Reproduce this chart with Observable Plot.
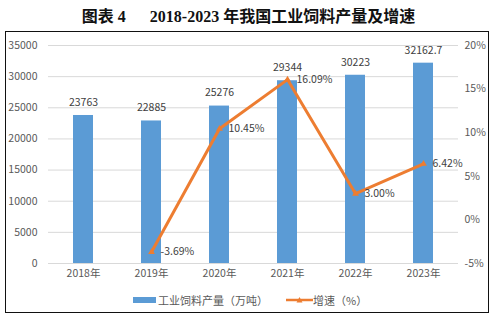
<!DOCTYPE html>
<html><head><meta charset="utf-8">
<script src="https://cdn.jsdelivr.net/npm/d3@7"></script>
<script src="https://cdn.jsdelivr.net/npm/@observablehq/plot@0.6"></script>
<style>
body{margin:0;width:497px;height:322px;background:#fff;position:relative;overflow:hidden;font-family:"Noto Sans CJK SC",sans-serif;}
#title{position:absolute;left:0;top:3px;width:497px;text-align:center;font-family:"Liberation Serif","Noto Sans CJK SC",serif;font-weight:bold;font-size:16px;color:#111;white-space:pre;}
#frame{position:absolute;left:5px;top:31px;width:482px;height:280px;border:1.6px solid #111;}
#chart{position:absolute;left:0;top:31px;}
#legend{position:absolute;top:292px;left:0;width:497px;height:16px;font-size:11px;color:#595959;}
#legend span{position:absolute;top:0;line-height:16px;}
</style></head>
<body>
<div id="title">图表 4      2018-2023 年我国工业饲料产量及增速</div>
<div id="frame"></div>
<div id="chart"></div>
<div id="legend">
  <svg style="position:absolute;left:133px;top:5px" width="23" height="6"><rect x="0" y="0" width="23" height="6" fill="#5b9bd5"/></svg>
  <span style="left:158px">工业饲料产量（万吨）</span>
  <svg style="position:absolute;left:286px;top:3px" width="27" height="10"><line x1="0" y1="5" x2="27" y2="5" stroke="#ed7d31" stroke-width="2.5"/><path d="M13.5,2 L16.5,7.5 L10.5,7.5 Z" fill="#ed7d31"/></svg>
  <span style="left:313px">增速（%）</span>
</div>
<script>
const years = ["2018年","2019年","2020年","2021年","2022年","2023年"];
const output = [23763, 22885, 25276, 29344, 30223, 32162.7];
const outputLabels = ["23763","22885","25276","29344","30223","32162.7"];
const growth = [null, -3.69, 10.45, 16.09, 3.00, 6.42];
const growthLabels = [null, "-3.69%", "10.45%", "16.09%", "3.00%", "6.42%"];
const leftTicks = [0, 5000, 10000, 15000, 20000, 25000, 30000, 35000];
const rightTicks = [-5, 0, 5, 10, 15, 20];

const leftMax = 35000, pctMin = -5, pctMax = 20;
const toLeft = g => (g - pctMin) / (pctMax - pctMin) * leftMax;
const fromLeft = v => v / leftMax * (pctMax - pctMin) + pctMin;

const bars = years.map((y, i) => ({year: y, value: output[i], label: outputLabels[i]}));
const pts = years.map((y, i) => ({year: y, g: growth[i], label: growthLabels[i]})).filter(d => d.g != null);

const chart = Plot.plot({
  width: 497, height: 252,
  marginTop: 14, marginBottom: 20, marginLeft: 48, marginRight: 39,
  style: {fontFamily: "'Noto Sans CJK SC', sans-serif", fontSize: "10.5px", color: "#595959", background: "transparent"},
  x: {domain: years, paddingInner: 0.7, paddingOuter: 0.35, label: null},
  y: {domain: [0, leftMax], label: null},
  marks: [
    Plot.gridY(leftTicks, {stroke: "#d9d9d9", strokeOpacity: 1}),
    Plot.axisY({ticks: leftTicks, tickFormat: d => String(d), tickSize: 0, tickPadding: 11, label: null}),
    Plot.axisY({anchor: "right", ticks: rightTicks.map(toLeft), tickFormat: v => Math.round(fromLeft(v)) + "%", tickSize: 0, tickPadding: 6, label: null}),
    Plot.axisX({tickSize: 0, tickPadding: 6, label: null}),
    Plot.barY(bars, {x: "year", y: "value", fill: "#5b9bd5"}),
    Plot.text(bars, {x: "year", y: "value", text: "label", dy: -13, fill: "#404040"}),
    Plot.line(pts, {x: "year", y: d => toLeft(d.g), stroke: "#ed7d31", strokeWidth: 3}),
    Plot.dot(pts, {x: "year", y: d => toLeft(d.g), symbol: "triangle", r: 2.5, fill: "#ed7d31"}),
    Plot.text(pts, {x: "year", y: d => toLeft(d.g), text: "label", textAnchor: "start", dx: 9, fill: "#404040"})
  ]
});
document.getElementById("chart").appendChild(chart);
</script>
</body></html>
